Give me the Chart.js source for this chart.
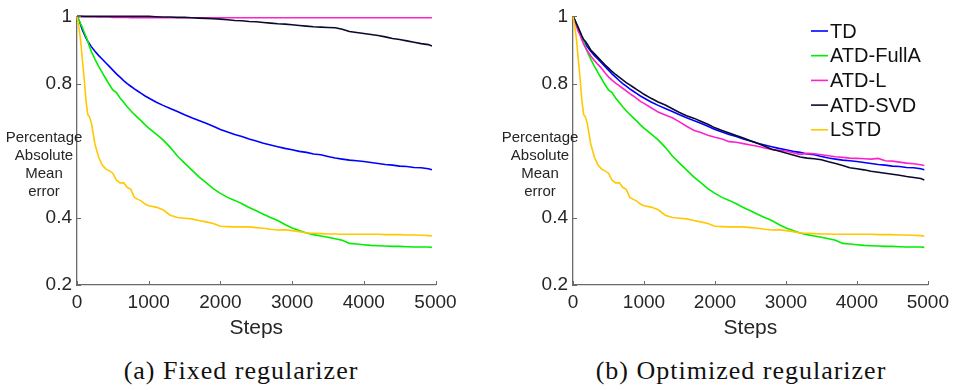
<!DOCTYPE html>
<html><head><meta charset="utf-8">
<script src="https://cdn.jsdelivr.net/npm/chart.js@4.4.1/dist/chart.umd.min.js"></script>
<style>
html,body{margin:0;padding:0;background:#fff;width:955px;height:390px;overflow:hidden;}
#wrap{position:relative;width:955px;height:390px;}
.box{position:absolute;top:0;height:343px;}
.cap{position:absolute;top:356px;font-family:"Liberation Serif","Times New Roman",serif;font-size:26px;letter-spacing:1px;color:#111;white-space:nowrap;transform:translateX(-50%);line-height:30px;}
</style></head><body>
<div id="wrap">
<div class="box" style="left:0;width:478px"><canvas id="c1" width="478" height="343"></canvas></div>
<div class="box" style="left:478px;width:477px"><canvas id="c2" width="477" height="343"></canvas></div>
<div class="cap" style="left:241px">(a) Fixed regularizer</div>
<div class="cap" style="left:741px">(b) Optimized regularizer</div>
</div>
<script>
// ---- data ----
const steps = [0,25,50,75,100,125,150,175,200,
250,300,350,400,450,500,550,600,650,700,750,800,850,900,950,1000,
1100,1200,1300,1400,1500,1600,1700,1800,1900,2000,
2100,2200,2300,2400,2500,2600,2700,2800,2900,3000,
3100,3200,3300,3400,3500,3600,3700,3800,3900,4000,
4100,4200,4300,4400,4500,4600,4700,4800,4900,4950];

const tdValues = [1.000,0.990,0.975,0.960,0.948,0.936,0.926,0.918,0.910,
0.896,0.884,0.873,0.862,0.851,0.840,0.829,0.819,0.809,0.800,0.792,0.784,0.777,0.770,0.763,0.757,
0.745,0.735,0.726,0.717,0.707,0.698,0.690,0.682,0.673,0.663,
0.656,0.648,0.642,0.635,0.629,0.622,0.617,0.612,0.607,0.603,
0.598,0.595,0.590,0.588,0.583,0.578,0.575,0.572,0.570,0.568,
0.565,0.562,0.559,0.557,0.554,0.553,0.550,0.549,0.546,0.543];

const fullAValues = [1.000,0.990,0.978,0.967,0.953,0.940,0.926,0.910,0.896,
0.873,0.852,0.833,0.815,0.797,0.781,0.773,0.757,0.744,0.731,0.719,0.708,0.698,0.688,0.677,0.667,
0.650,0.632,0.610,0.584,0.563,0.543,0.522,0.505,0.487,0.473,
0.461,0.452,0.442,0.431,0.421,0.411,0.401,0.392,0.380,0.370,
0.362,0.355,0.350,0.346,0.342,0.338,0.333,0.324,0.322,0.320,
0.318,0.317,0.316,0.315,0.315,0.314,0.313,0.313,0.313,0.312];

const lstdValues = [1.000,0.970,0.930,0.870,0.815,0.750,0.708,0.700,0.683,
0.620,0.582,0.558,0.546,0.540,0.533,0.512,0.504,0.505,0.491,0.485,0.461,0.455,0.450,0.441,0.436,
0.432,0.424,0.408,0.401,0.399,0.397,0.392,0.388,0.383,0.375,
0.374,0.373,0.373,0.373,0.371,0.369,0.366,0.364,0.365,0.362,
0.359,0.355,0.354,0.353,0.352,0.352,0.351,0.351,0.351,0.351,
0.351,0.351,0.350,0.350,0.350,0.349,0.349,0.348,0.347,0.346];

const atdLFixed = [1.000,1.000,1.000,1.000,0.999,0.999,0.999,0.999,0.999,
0.999,0.998,0.998,0.998,0.998,0.997,0.997,0.997,0.997,0.997,0.996,0.996,0.996,0.996,0.996,0.996,
0.996,0.996,0.996,0.996,0.996,0.996,0.996,0.996,0.996,0.996,
0.996,0.996,0.996,0.996,0.996,0.996,0.996,0.996,0.996,0.996,
0.996,0.996,0.996,0.996,0.996,0.996,0.996,0.996,0.996,0.996,
0.996,0.996,0.996,0.996,0.996,0.996,0.996,0.996,0.996,0.996];

const atdSvdFixed = [1.000,1.000,1.000,1.000,1.000,1.000,1.000,1.000,1.000,
1.000,1.000,1.000,1.000,1.000,1.000,1.000,1.000,1.000,1.000,1.000,1.000,1.000,1.000,1.000,1.000,
0.999,0.998,0.998,0.997,0.997,0.996,0.995,0.994,0.993,0.992,
0.990,0.988,0.987,0.985,0.984,0.982,0.980,0.978,0.977,0.975,
0.973,0.971,0.969,0.968,0.967,0.966,0.962,0.955,0.952,0.949,
0.946,0.943,0.939,0.934,0.931,0.927,0.923,0.919,0.916,0.912];

const atdLOpt = [1.000,0.985,0.970,0.955,0.944,0.930,0.917,0.907,0.898,
0.882,0.869,0.857,0.846,0.832,0.820,0.810,0.801,0.794,0.786,0.778,0.770,0.763,0.755,0.747,0.741,
0.728,0.715,0.706,0.698,0.686,0.673,0.661,0.654,0.646,0.640,
0.635,0.627,0.625,0.621,0.617,0.613,0.608,0.604,0.601,0.599,
0.594,0.589,0.592,0.591,0.588,0.585,0.582,0.580,0.578,0.577,
0.576,0.575,0.577,0.570,0.569,0.566,0.563,0.561,0.558,0.556];

const atdSvdOpt = [1.000,0.990,0.978,0.966,0.954,0.942,0.931,0.925,0.918,
0.900,0.889,0.878,0.867,0.856,0.846,0.836,0.827,0.819,0.811,0.803,0.796,0.789,0.782,0.775,0.768,
0.756,0.745,0.736,0.725,0.714,0.704,0.697,0.688,0.679,0.668,
0.660,0.653,0.645,0.638,0.630,0.622,0.613,0.604,0.599,0.593,
0.587,0.581,0.578,0.576,0.573,0.567,0.562,0.556,0.549,0.546,
0.543,0.539,0.536,0.533,0.530,0.527,0.523,0.520,0.517,0.513];

const seriesNames = ['TD','ATD-FullA','ATD-L','ATD-SVD','LSTD'];
const seriesColors = ['#0000ff','#00ee00','#ff22cc','#0a0a30','#ffc800'];
const xTickValues = [0,1000,2000,3000,4000,5000];
const xTickLabels = ['0','1000','2000','3000','4000','5000'];
const yTickValues = [0.2,0.4,0.8,1];
const yTickLabels = ['0.2','0.4','0.8','1'];
const yTitleLines = ['Percentage','Absolute','Mean','error'];
const xTitle = 'Steps';

// ---- styling ----
const FONT = '"Liberation Sans", Arial, Helvetica, sans-serif';
const AXIS = '#6a6a6a';
const TXT = '#262626';

const inwardTicks = {
  id:'inwardTicks',
  afterDraw(chart){
    const {ctx, chartArea:a, scales:{x,y}} = chart;
    ctx.save(); ctx.strokeStyle = AXIS; ctx.lineWidth = 1;
    ctx.beginPath();
    x.ticks.forEach(t=>{const px=Math.round(x.getPixelForValue(t.value))+0.5; ctx.moveTo(px,a.bottom); ctx.lineTo(px,a.bottom-4);});
    y.ticks.forEach(t=>{const py=Math.round(y.getPixelForValue(t.value))+0.5; ctx.moveTo(a.left,py); ctx.lineTo(a.left+4,py);});
    ctx.stroke(); ctx.restore();
  }
};
const yTitle = {
  id:'yTitle',
  afterDraw(chart){
    const {ctx, chartArea:a} = chart;
    ctx.save(); ctx.font = '15px '+FONT; ctx.fillStyle = TXT;
    ctx.textAlign='center'; ctx.textBaseline='middle';
    yTitleLines.forEach((l,i)=>ctx.fillText(l, a.left-33, 138+i*18));
    ctx.restore();
  }
};
const boxLegend = {
  id:'boxLegend',
  afterDraw(chart, args, opts){
    if(!opts.show) return;
    const {ctx} = chart;
    ctx.save(); ctx.font = '20px '+FONT; ctx.textBaseline='middle'; ctx.textAlign='left';
    chart.data.datasets.forEach((d,i)=>{
      const yy = 31 + i*24.7;
      ctx.strokeStyle = d.borderColor; ctx.lineWidth = 1.6;
      ctx.beginPath(); ctx.moveTo(333,yy); ctx.lineTo(350,yy); ctx.stroke();
      ctx.fillStyle = '#111'; ctx.fillText(d.label, 352, yy+1);
    });
    ctx.restore();
  }
};

function makeChart(id, seriesData, yw, rightPad, showLegend){
  const n = seriesData.length;
  const datasets = seriesData.map((vals,i)=>({
    label: seriesNames[i],
    data: steps.map((s,k)=>({x:s, y:vals[k]})),
    borderColor: seriesColors[i],
    backgroundColor: seriesColors[i],
    borderWidth: 1.6, pointRadius: 0, tension: 0, fill:false,
    order: n - i, clip: 4
  }));
  return new Chart(document.getElementById(id), {
    type:'line',
    data:{datasets},
    plugins:[inwardTicks, yTitle, boxLegend],
    options:{
      responsive:false, animation:false, devicePixelRatio:1,
      layout:{padding:{left:0, right:rightPad, top:12.7, bottom:0}},
      plugins:{legend:{display:false}, tooltip:{enabled:false}, boxLegend:{show:showLegend}},
      scales:{
        x:{type:'linear', min:0, max:5000,
          afterBuildTicks(s){ s.ticks = xTickValues.map(v=>({value:v})); },
          afterFit(s){ s.height = 58; },
          grid:{display:false, drawTicks:false},
          border:{display:true, color:AXIS, width:1.3},
          ticks:{padding:6, color:TXT, font:{family:FONT, size:19}, maxRotation:0, autoSkip:false,
                 callback:(v,i)=>xTickLabels[i]},
          title:{display:true, text:xTitle, color:TXT, font:{family:FONT, size:21}, padding:{top:0,bottom:2}}
        },
        y:{type:'linear', min:0.2, max:1,
          afterBuildTicks(s){ s.ticks = yTickValues.map(v=>({value:v})); },
          afterFit(s){ s.width = yw; },
          grid:{display:false, drawTicks:false},
          border:{display:true, color:AXIS, width:1.3},
          ticks:{padding:5, color:TXT, font:{family:FONT, size:19}, callback:(v,i)=>yTickLabels[i]}
        }
      }
    }
  });
}

makeChart('c1', [tdValues, fullAValues, atdLFixed, atdSvdFixed, lstdValues], 77, 42.5, false);
makeChart('c2', [tdValues, fullAValues, atdLOpt, atdSvdOpt, lstdValues], 95, 23.7, true);
</script>
</body></html>
